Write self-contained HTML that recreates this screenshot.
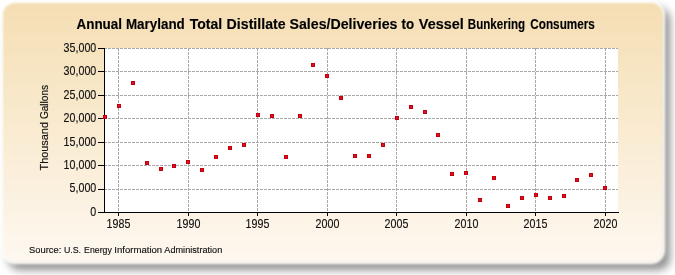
<!DOCTYPE html>
<html><head><meta charset="utf-8"><style>
html,body{margin:0;padding:0;background:#fff;}
body{width:675px;height:275px;overflow:hidden;}
svg{display:block;will-change:transform;}
text{font-family:"Liberation Sans",sans-serif;fill:#111;stroke:#111;stroke-width:0.15px;}
</style></head><body>
<svg width="675" height="275" viewBox="0 0 675 275">
<defs>
<linearGradient id="bg" x1="0" y1="0" x2="0" y2="1">
<stop offset="0" stop-color="#f5deb3"/>
<stop offset="1" stop-color="#fef8f0"/>
</linearGradient>
<filter id="sh" x="-10%" y="-10%" width="120%" height="130%"><feGaussianBlur stdDeviation="4"/></filter>
<filter id="pb" x="-2%" y="-2%" width="104%" height="104%"><feGaussianBlur stdDeviation="0.8"/></filter>
<filter id="gl" x="-10%" y="-10%" width="120%" height="130%"><feGaussianBlur stdDeviation="1.5"/></filter>
</defs>
<rect x="8" y="8" width="662" height="262" rx="12" fill="#8f8f8f" filter="url(#sh)"/>
<rect x="3" y="3" width="660" height="259" rx="12" fill="none" stroke="#fff" stroke-width="4" filter="url(#gl)"/>
<rect x="3" y="3" width="660" height="259" rx="12" fill="url(#bg)" filter="url(#pb)"/>
<rect x="104" y="48" width="514" height="164" fill="#fff"/>
<g stroke="#a8a8a8" stroke-width="1" stroke-dasharray="3,1">
<line x1="104" y1="189.5" x2="618" y2="189.5"/><line x1="104" y1="165.5" x2="618" y2="165.5"/><line x1="104" y1="142.5" x2="618" y2="142.5"/><line x1="104" y1="118.5" x2="618" y2="118.5"/><line x1="104" y1="95.5" x2="618" y2="95.5"/><line x1="104" y1="71.5" x2="618" y2="71.5"/><line x1="104" y1="48.5" x2="618" y2="48.5"/><line x1="118.5" y1="48" x2="118.5" y2="212"/><line x1="188.5" y1="48" x2="188.5" y2="212"/><line x1="257.5" y1="48" x2="257.5" y2="212"/><line x1="327.5" y1="48" x2="327.5" y2="212"/><line x1="396.5" y1="48" x2="396.5" y2="212"/><line x1="466.5" y1="48" x2="466.5" y2="212"/><line x1="535.5" y1="48" x2="535.5" y2="212"/><line x1="605.5" y1="48" x2="605.5" y2="212"/>
</g>
<g stroke="#000" stroke-width="1">
<line x1="104.5" y1="48" x2="104.5" y2="213"/>
<line x1="98" y1="212.5" x2="619" y2="212.5"/>
<line x1="98" y1="212.5" x2="104" y2="212.5"/><line x1="98" y1="189.5" x2="104" y2="189.5"/><line x1="98" y1="165.5" x2="104" y2="165.5"/><line x1="98" y1="142.5" x2="104" y2="142.5"/><line x1="98" y1="118.5" x2="104" y2="118.5"/><line x1="98" y1="95.5" x2="104" y2="95.5"/><line x1="98" y1="71.5" x2="104" y2="71.5"/><line x1="98" y1="48.5" x2="104" y2="48.5"/><line x1="118.5" y1="213" x2="118.5" y2="216"/><line x1="188.5" y1="213" x2="188.5" y2="216"/><line x1="257.5" y1="213" x2="257.5" y2="216"/><line x1="327.5" y1="213" x2="327.5" y2="216"/><line x1="396.5" y1="213" x2="396.5" y2="216"/><line x1="466.5" y1="213" x2="466.5" y2="216"/><line x1="535.5" y1="213" x2="535.5" y2="216"/><line x1="605.5" y1="213" x2="605.5" y2="216"/>
</g>
<g fill="#dc1020" stroke="#c4000f" stroke-width="1">
<rect x="103.5" y="115.5" width="3" height="3"/><rect x="117.5" y="104.5" width="3" height="3"/><rect x="131.5" y="81.5" width="3" height="3"/><rect x="145.5" y="161.5" width="3" height="3"/><rect x="159.5" y="167.5" width="3" height="3"/><rect x="172.5" y="164.5" width="3" height="3"/><rect x="186.5" y="160.5" width="3" height="3"/><rect x="200.5" y="168.5" width="3" height="3"/><rect x="214.5" y="155.5" width="3" height="3"/><rect x="228.5" y="146.5" width="3" height="3"/><rect x="242.5" y="143.5" width="3" height="3"/><rect x="256.5" y="113.5" width="3" height="3"/><rect x="270.5" y="114.5" width="3" height="3"/><rect x="284.5" y="155.5" width="3" height="3"/><rect x="298.5" y="114.5" width="3" height="3"/><rect x="311.5" y="63.5" width="3" height="3"/><rect x="325.5" y="74.5" width="3" height="3"/><rect x="339.5" y="96.5" width="3" height="3"/><rect x="353.5" y="154.5" width="3" height="3"/><rect x="367.5" y="154.5" width="3" height="3"/><rect x="381.5" y="143.5" width="3" height="3"/><rect x="395.5" y="116.5" width="3" height="3"/><rect x="409.5" y="105.5" width="3" height="3"/><rect x="423.5" y="110.5" width="3" height="3"/><rect x="436.5" y="133.5" width="3" height="3"/><rect x="450.5" y="172.5" width="3" height="3"/><rect x="464.5" y="171.5" width="3" height="3"/><rect x="478.5" y="198.5" width="3" height="3"/><rect x="492.5" y="176.5" width="3" height="3"/><rect x="506.5" y="204.5" width="3" height="3"/><rect x="520.5" y="196.5" width="3" height="3"/><rect x="534.5" y="193.5" width="3" height="3"/><rect x="548.5" y="196.5" width="3" height="3"/><rect x="562.5" y="194.5" width="3" height="3"/><rect x="575.5" y="178.5" width="3" height="3"/><rect x="589.5" y="173.5" width="3" height="3"/><rect x="603.5" y="186.5" width="3" height="3"/>
</g>
<g font-size="14" font-weight="bold" style="fill:#000"><text transform="translate(76.5,29) scale(0.9596,1)" style="fill:#000">Annual</text><text transform="translate(125.94,29) scale(0.9583,1)" style="fill:#000">Maryland</text><text transform="translate(189.8,29) scale(1.0,1)" style="fill:#000">Total</text><text transform="translate(226.59,29) scale(1.0123,1)" style="fill:#000">Distillate</text><text transform="translate(289.5,29) scale(1.0132,1)" style="fill:#000">Sales/Deliveries</text><text transform="translate(401.6,29) scale(0.9538,1)" style="fill:#000">to</text><text transform="translate(418.8,29) scale(1.0326,1)" style="fill:#000">Vessel</text><text transform="translate(467.77,29) scale(0.8279,1)" style="fill:#000">Bunkering</text><text transform="translate(530.3,29) scale(0.839,1)" style="fill:#000">Consumers</text></g>
<g font-size="12.3" text-anchor="end">
<text transform="translate(96.3,215.85) scale(0.87,1)">0</text><text transform="translate(96.3,192.42) scale(0.87,1)">5,000</text><text transform="translate(96.3,168.99) scale(0.87,1)">10,000</text><text transform="translate(96.3,145.56) scale(0.87,1)">15,000</text><text transform="translate(96.3,122.14) scale(0.87,1)">20,000</text><text transform="translate(96.3,98.71) scale(0.87,1)">25,000</text><text transform="translate(96.3,75.28) scale(0.87,1)">30,000</text><text transform="translate(96.3,51.85) scale(0.87,1)">35,000</text>
</g>
<g font-size="12.3" text-anchor="middle">
<text transform="translate(118.50,228) scale(0.87,1)">1985</text><text transform="translate(188.50,228) scale(0.87,1)">1990</text><text transform="translate(257.50,228) scale(0.87,1)">1995</text><text transform="translate(327.50,228) scale(0.87,1)">2000</text><text transform="translate(396.50,228) scale(0.87,1)">2005</text><text transform="translate(466.50,228) scale(0.87,1)">2010</text><text transform="translate(535.50,228) scale(0.87,1)">2015</text><text transform="translate(605.50,228) scale(0.87,1)">2020</text>
</g>
<g font-size="10.5"><text transform="translate(48,170.50) rotate(-90) scale(1.0391,1)">Thousand</text><text transform="translate(48,119.10) rotate(-90) scale(0.96,1)">Gallons</text></g>
<g font-size="9.3"><text transform="translate(29.1,253) scale(1.0062,1)">Source:</text><text transform="translate(63.9,253) scale(0.95,1)">U.S.</text><text transform="translate(84.1,253) scale(0.94,1)">Energy</text><text transform="translate(114.37,253) scale(1.0289,1)">Information</text><text transform="translate(164.3,253) scale(0.9847,1)">Administration</text></g>
</svg>
</body></html>
